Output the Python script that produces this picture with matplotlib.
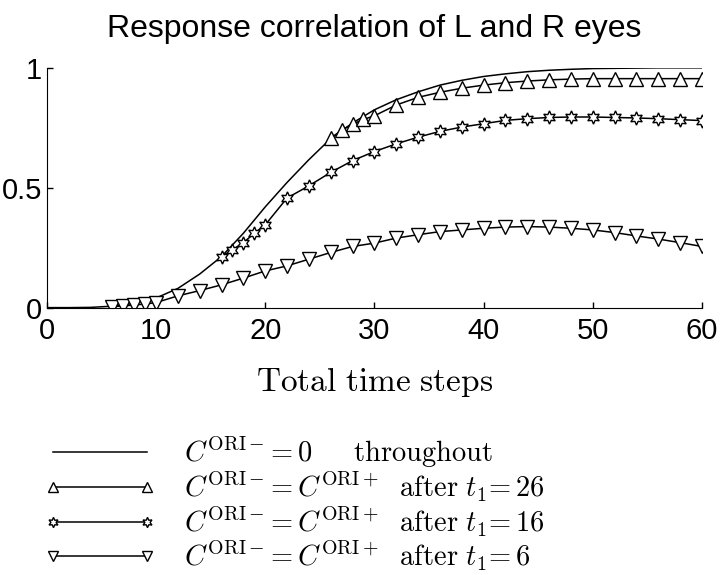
import matplotlib
matplotlib.use("Agg")
import matplotlib.pyplot as plt

plt.rcParams['mathtext.fontset'] = 'cm'
sans = ['Liberation Sans', 'DejaVu Sans']

# C_ORI- = 0 throughout
t_base = [0, 2, 4, 6, 8, 10, 12, 14, 16, 18, 20, 22, 24, 26, 28, 30,
          32, 34, 36, 38, 40, 42, 44, 46, 48, 50, 52, 54, 56, 58, 60]
r_base = [0.0, 0.0, 0.001, 0.006, 0.018, 0.04, 0.08, 0.14, 0.213, 0.31, 0.42,
          0.522, 0.617, 0.705, 0.77, 0.825, 0.867, 0.90, 0.928, 0.948, 0.964,
          0.975, 0.984, 0.99, 0.994, 0.997, 0.998, 0.999, 1.0, 1.0, 1.0]

# switched after t1 = 26
t_26 = [26, 27, 28, 29, 30, 32, 34, 36, 38, 40, 42, 44, 46, 48, 50, 52, 54, 56, 58, 60]
r_26 = [0.707, 0.74, 0.765, 0.785, 0.80, 0.845, 0.877, 0.898, 0.915, 0.928,
        0.938, 0.945, 0.95, 0.953, 0.955, 0.955, 0.955, 0.955, 0.955, 0.955]

# switched after t1 = 16
t_16 = [16, 17, 18, 19, 20, 22, 24, 26, 28, 30, 32, 34, 36, 38, 40, 42, 44,
        46, 48, 50, 52, 54, 56, 58, 60]
r_16 = [0.213, 0.241, 0.271, 0.31, 0.345, 0.457, 0.508, 0.564, 0.613, 0.651,
        0.683, 0.711, 0.735, 0.753, 0.767, 0.781, 0.788, 0.793, 0.795, 0.795,
        0.793, 0.791, 0.788, 0.784, 0.78]

# switched after t1 = 6
t_6 = [6, 7, 8, 9, 10, 12, 14, 16, 18, 20, 22, 24, 26, 28, 30, 32, 34, 36,
       38, 40, 42, 44, 46, 48, 50, 52, 54, 56, 58, 60]
r_6 = [0.004, 0.007, 0.011, 0.015, 0.021, 0.049, 0.071, 0.095, 0.123, 0.153,
       0.174, 0.202, 0.23, 0.255, 0.269, 0.29, 0.304, 0.317, 0.324, 0.331,
       0.336, 0.338, 0.336, 0.331, 0.324, 0.313, 0.299, 0.286, 0.271, 0.255]

labels = [r'$C^{\mathrm{ORI}-}\!=0\quad\ \ \mathrm{throughout}$',
          r'$C^{\mathrm{ORI}-}\!=C^{\mathrm{ORI}+}\ \ \mathrm{after}\ t_1\!=26$',
          r'$C^{\mathrm{ORI}-}\!=C^{\mathrm{ORI}+}\ \ \mathrm{after}\ t_1\!=16$',
          r'$C^{\mathrm{ORI}-}\!=C^{\mathrm{ORI}+}\ \ \mathrm{after}\ t_1\!=6$']

fig = plt.figure(figsize=(7.2, 5.75), dpi=100)
ax = fig.add_axes([0.065, 0.465, 0.91, 0.417])

lw = 1.1
mk = dict(markerfacecolor='white', markeredgecolor='black', markeredgewidth=1.0)
ax.plot(t_base, r_base, '-k', lw=lw, label=labels[0])
ax.plot(t_26, r_26, '-k', lw=lw, marker='^', ms=9.5, label=labels[1], **mk)
ax.plot(t_16, r_16, '-k', lw=lw, marker=(6, 1, 0), ms=9.5, label=labels[2], **mk)
ax.plot(t_6, r_6, '-k', lw=lw, marker='v', ms=9.5, label=labels[3], **mk)

ax.set_xlim(0, 60)
ax.set_ylim(0, 1)
ax.set_xticks([0, 10, 20, 30, 40, 50, 60])
ax.set_yticks([0, 0.5, 1])
ax.set_yticklabels(['0', '0.5', '1'])
ax.spines['top'].set_visible(False)
ax.spines['right'].set_visible(False)
ax.tick_params(direction='in', length=4, width=1, labelsize=21)
ax.tick_params(axis='x', pad=7)
for lab in ax.get_xticklabels() + ax.get_yticklabels():
    lab.set_family(sans)
ax.set_xlabel(r'$\mathrm{Total\ time\ steps}$', fontsize=24, labelpad=14)
ax.set_title('Response correlation of L and R eyes', fontsize=23,
             family=sans, pad=22)

fig.legend(loc='upper left', bbox_to_anchor=(0.062, 0.245), frameon=False,
           fontsize=20.5, handlelength=3.9, handletextpad=1.0, labelspacing=0.0,
           borderpad=0, borderaxespad=0, numpoints=2, markerscale=0.78)

fig.savefig('out.png', dpi=100)
